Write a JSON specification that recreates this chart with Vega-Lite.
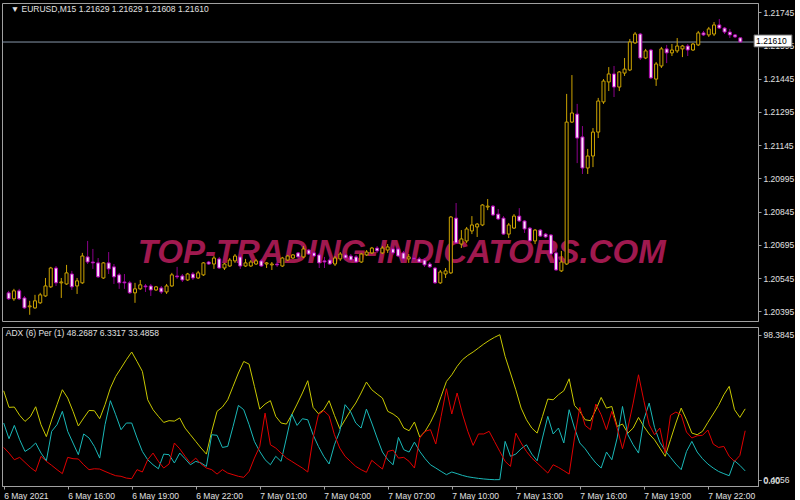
{
"$schema": "https://vega.github.io/schema/vega-lite/v6.json",
"background": "#000000",
"padding": {"left": 1, "top": 2, "right": 0, "bottom": 0},
"spacing": 4,
"config": {
  "view": {"stroke": "#a0a0a0", "strokeWidth": 1},
  "font": "Liberation Sans",
  "axis": {"labelColor": "#e0e0e0", "labelFont": "Liberation Sans", "labelFontSize": 8.5, "domainColor": "#a0a0a0", "tickColor": "#a0a0a0", "grid": false, "title": null, "tickSize": 3, "labelPadding": 2, "labelOverlap": false, "labelFlush": false, "labelBound": false}
},
"datasets": {"bars": [
{"t":"2021-05-06 13:00","o":1.20479,"h":1.20488,"l":1.20447,"c":1.20452,"adx":60.5,"pdi":38.7,"mdi":22.2},
{"t":"2021-05-06 13:15","o":1.20452,"h":1.20497,"l":1.20443,"c":1.20488,"adx":49.3,"pdi":28.1,"mdi":18.4},
{"t":"2021-05-06 13:30","o":1.20488,"h":1.20497,"l":1.20447,"c":1.20452,"adx":49.5,"pdi":37.1,"mdi":13.9},
{"t":"2021-05-06 13:45","o":1.20456,"h":1.20465,"l":1.20407,"c":1.20411,"adx":43.9,"pdi":27.4,"mdi":15.5},
{"t":"2021-05-06 14:00","o":1.20416,"h":1.20443,"l":1.20380,"c":1.20420,"adx":39.8,"pdi":19.5,"mdi":12.1},
{"t":"2021-05-06 14:15","o":1.20411,"h":1.20470,"l":1.20407,"c":1.20443,"adx":43.0,"pdi":21.8,"mdi":8.7},
{"t":"2021-05-06 14:30","o":1.20434,"h":1.20479,"l":1.20429,"c":1.20470,"adx":49.7,"pdi":25.2,"mdi":6.0},
{"t":"2021-05-06 14:45","o":1.20465,"h":1.20546,"l":1.20461,"c":1.20510,"adx":37.6,"pdi":18.4,"mdi":16.2},
{"t":"2021-05-06 15:00","o":1.20506,"h":1.20596,"l":1.20501,"c":1.20591,"adx":29.5,"pdi":13.2,"mdi":12.8},
{"t":"2021-05-06 15:15","o":1.20591,"h":1.20600,"l":1.20510,"c":1.20524,"adx":40.9,"pdi":33.1,"mdi":10.1},
{"t":"2021-05-06 15:30","o":1.20524,"h":1.20546,"l":1.20456,"c":1.20528,"adx":51.1,"pdi":37.6,"mdi":7.2},
{"t":"2021-05-06 15:45","o":1.20519,"h":1.20605,"l":1.20515,"c":1.20569,"adx":61.2,"pdi":46.6,"mdi":4.5},
{"t":"2021-05-06 16:00","o":1.20564,"h":1.20578,"l":1.20492,"c":1.20506,"adx":55.6,"pdi":33.1,"mdi":15.5},
{"t":"2021-05-06 16:15","o":1.20510,"h":1.20546,"l":1.20474,"c":1.20533,"adx":46.6,"pdi":25.2,"mdi":14.6},
{"t":"2021-05-06 16:30","o":1.20524,"h":1.20659,"l":1.20519,"c":1.20645,"adx":36.7,"pdi":17.3,"mdi":14.4},
{"t":"2021-05-06 16:45","o":1.20641,"h":1.20713,"l":1.20609,"c":1.20618,"adx":42.1,"pdi":31.3,"mdi":10.5},
{"t":"2021-05-06 17:00","o":1.20618,"h":1.20677,"l":1.20587,"c":1.20614,"adx":47.2,"pdi":28.6,"mdi":7.2},
{"t":"2021-05-06 17:15","o":1.20614,"h":1.20636,"l":1.20546,"c":1.20551,"adx":47.0,"pdi":22.9,"mdi":7.8},
{"t":"2021-05-06 17:30","o":1.20546,"h":1.20618,"l":1.20542,"c":1.20614,"adx":41.6,"pdi":15.0,"mdi":7.6},
{"t":"2021-05-06 17:45","o":1.20614,"h":1.20663,"l":1.20564,"c":1.20587,"adx":51.1,"pdi":37.6,"mdi":6.0},
{"t":"2021-05-06 18:00","o":1.20596,"h":1.20609,"l":1.20519,"c":1.20551,"adx":62.3,"pdi":53.8,"mdi":4.5},
{"t":"2021-05-06 18:15","o":1.20560,"h":1.20569,"l":1.20497,"c":1.20524,"adx":70.2,"pdi":44.3,"mdi":3.1},
{"t":"2021-05-06 18:30","o":1.20528,"h":1.20564,"l":1.20497,"c":1.20524,"adx":75.8,"pdi":34.2,"mdi":2.7},
{"t":"2021-05-06 18:45","o":1.20524,"h":1.20533,"l":1.20474,"c":1.20479,"adx":81.5,"pdi":38.7,"mdi":1.5},
{"t":"2021-05-06 19:00","o":1.20479,"h":1.20524,"l":1.20434,"c":1.20497,"adx":86.7,"pdi":38.7,"mdi":1.1},
{"t":"2021-05-06 19:15","o":1.20497,"h":1.20537,"l":1.20492,"c":1.20515,"adx":80.3,"pdi":28.6,"mdi":7.2},
{"t":"2021-05-06 19:30","o":1.20510,"h":1.20519,"l":1.20483,"c":1.20506,"adx":73.6,"pdi":19.5,"mdi":5.6},
{"t":"2021-05-06 19:45","o":1.20510,"h":1.20519,"l":1.20465,"c":1.20492,"adx":54.4,"pdi":13.9,"mdi":13.9},
{"t":"2021-05-06 20:00","o":1.20492,"h":1.20510,"l":1.20488,"c":1.20506,"adx":47.7,"pdi":10.5,"mdi":18.4},
{"t":"2021-05-06 20:15","o":1.20501,"h":1.20510,"l":1.20474,"c":1.20483,"adx":43.2,"pdi":7.8,"mdi":12.8},
{"t":"2021-05-06 20:30","o":1.20483,"h":1.20519,"l":1.20474,"c":1.20510,"adx":39.1,"pdi":17.7,"mdi":8.3},
{"t":"2021-05-06 20:45","o":1.20510,"h":1.20569,"l":1.20506,"c":1.20560,"adx":40.3,"pdi":17.3,"mdi":11.0},
{"t":"2021-05-06 21:00","o":1.20555,"h":1.20596,"l":1.20542,"c":1.20551,"adx":40.0,"pdi":11.7,"mdi":25.2},
{"t":"2021-05-06 21:15","o":1.20555,"h":1.20564,"l":1.20528,"c":1.20537,"adx":42.1,"pdi":18.4,"mdi":21.3},
{"t":"2021-05-06 21:30","o":1.20537,"h":1.20569,"l":1.20533,"c":1.20564,"adx":35.3,"pdi":14.6,"mdi":16.2},
{"t":"2021-05-06 21:45","o":1.20564,"h":1.20573,"l":1.20537,"c":1.20546,"adx":30.8,"pdi":10.5,"mdi":11.7},
{"t":"2021-05-06 22:00","o":1.20546,"h":1.20578,"l":1.20542,"c":1.20569,"adx":26.3,"pdi":12.8,"mdi":15.0},
{"t":"2021-05-06 22:15","o":1.20560,"h":1.20618,"l":1.20555,"c":1.20614,"adx":21.8,"pdi":11.7,"mdi":11.0},
{"t":"2021-05-06 22:30","o":1.20618,"h":1.20623,"l":1.20605,"c":1.20609,"adx":17.7,"pdi":9.4,"mdi":8.3},
{"t":"2021-05-06 22:45","o":1.20609,"h":1.20645,"l":1.20587,"c":1.20636,"adx":33.1,"pdi":30.8,"mdi":7.2},
{"t":"2021-05-06 23:00","o":1.20632,"h":1.20641,"l":1.20587,"c":1.20591,"adx":46.6,"pdi":30.4,"mdi":4.2},
{"t":"2021-05-06 23:15","o":1.20591,"h":1.20614,"l":1.20582,"c":1.20609,"adx":49.5,"pdi":22.2,"mdi":7.2},
{"t":"2021-05-06 23:30","o":1.20600,"h":1.20636,"l":1.20596,"c":1.20627,"adx":54.4,"pdi":22.9,"mdi":4.9},
{"t":"2021-05-06 23:45","o":1.20623,"h":1.20654,"l":1.20614,"c":1.20645,"adx":63.5,"pdi":36.4,"mdi":3.8},
{"t":"2021-05-07 00:00","o":1.20641,"h":1.20654,"l":1.20587,"c":1.20600,"adx":72.5,"pdi":50.6,"mdi":2.7},
{"t":"2021-05-07 00:15","o":1.20600,"h":1.20632,"l":1.20596,"c":1.20614,"adx":80.3,"pdi":47.7,"mdi":2.0},
{"t":"2021-05-07 00:30","o":1.20600,"h":1.20627,"l":1.20596,"c":1.20618,"adx":78.5,"pdi":37.6,"mdi":6.0},
{"t":"2021-05-07 00:45","o":1.20609,"h":1.20632,"l":1.20605,"c":1.20623,"adx":63.5,"pdi":26.3,"mdi":15.0},
{"t":"2021-05-07 01:00","o":1.20623,"h":1.20632,"l":1.20596,"c":1.20600,"adx":48.1,"pdi":19.5,"mdi":22.9},
{"t":"2021-05-07 01:15","o":1.20609,"h":1.20618,"l":1.20591,"c":1.20614,"adx":51.5,"pdi":13.9,"mdi":45.4},
{"t":"2021-05-07 01:30","o":1.20605,"h":1.20618,"l":1.20582,"c":1.20609,"adx":53.8,"pdi":10.5,"mdi":24.0},
{"t":"2021-05-07 01:45","o":1.20609,"h":1.20618,"l":1.20596,"c":1.20605,"adx":43.2,"pdi":16.2,"mdi":21.8},
{"t":"2021-05-07 02:00","o":1.20600,"h":1.20641,"l":1.20596,"c":1.20636,"adx":38.7,"pdi":12.8,"mdi":18.4},
{"t":"2021-05-07 02:15","o":1.20627,"h":1.20650,"l":1.20623,"c":1.20645,"adx":38.0,"pdi":28.6,"mdi":15.0},
{"t":"2021-05-07 02:30","o":1.20636,"h":1.20654,"l":1.20632,"c":1.20650,"adx":44.3,"pdi":44.8,"mdi":12.8},
{"t":"2021-05-07 02:45","o":1.20659,"h":1.20663,"l":1.20636,"c":1.20641,"adx":51.5,"pdi":37.1,"mdi":10.5},
{"t":"2021-05-07 03:00","o":1.20641,"h":1.20690,"l":1.20636,"c":1.20677,"adx":59.0,"pdi":41.6,"mdi":8.3},
{"t":"2021-05-07 03:15","o":1.20672,"h":1.20677,"l":1.20650,"c":1.20654,"adx":67.3,"pdi":40.9,"mdi":5.6},
{"t":"2021-05-07 03:30","o":1.20659,"h":1.20668,"l":1.20641,"c":1.20645,"adx":49.3,"pdi":30.8,"mdi":28.6},
{"t":"2021-05-07 03:45","o":1.20650,"h":1.20659,"l":1.20591,"c":1.20614,"adx":45.0,"pdi":22.9,"mdi":44.3},
{"t":"2021-05-07 04:00","o":1.20623,"h":1.20641,"l":1.20591,"c":1.20618,"adx":47.7,"pdi":16.2,"mdi":47.0},
{"t":"2021-05-07 04:15","o":1.20627,"h":1.20636,"l":1.20605,"c":1.20609,"adx":53.8,"pdi":11.0,"mdi":43.6},
{"t":"2021-05-07 04:30","o":1.20609,"h":1.20645,"l":1.20600,"c":1.20636,"adx":43.9,"pdi":24.0,"mdi":30.8},
{"t":"2021-05-07 04:45","o":1.20632,"h":1.20663,"l":1.20623,"c":1.20654,"adx":34.9,"pdi":33.1,"mdi":21.8},
{"t":"2021-05-07 05:00","o":1.20650,"h":1.20659,"l":1.20632,"c":1.20636,"adx":40.9,"pdi":51.1,"mdi":16.2},
{"t":"2021-05-07 05:15","o":1.20645,"h":1.20654,"l":1.20623,"c":1.20627,"adx":47.0,"pdi":46.6,"mdi":12.8},
{"t":"2021-05-07 05:30","o":1.20641,"h":1.20650,"l":1.20614,"c":1.20618,"adx":52.2,"pdi":38.7,"mdi":9.4},
{"t":"2021-05-07 05:45","o":1.20618,"h":1.20659,"l":1.20614,"c":1.20654,"adx":59.0,"pdi":35.3,"mdi":7.2},
{"t":"2021-05-07 06:00","o":1.20650,"h":1.20672,"l":1.20645,"c":1.20663,"adx":66.4,"pdi":48.1,"mdi":5.4},
{"t":"2021-05-07 06:15","o":1.20659,"h":1.20686,"l":1.20654,"c":1.20681,"adx":61.2,"pdi":38.7,"mdi":13.5},
{"t":"2021-05-07 06:30","o":1.20681,"h":1.20690,"l":1.20659,"c":1.20668,"adx":58.3,"pdi":28.6,"mdi":10.5},
{"t":"2021-05-07 06:45","o":1.20659,"h":1.20690,"l":1.20654,"c":1.20681,"adx":55.6,"pdi":19.1,"mdi":7.6},
{"t":"2021-05-07 07:00","o":1.20672,"h":1.20699,"l":1.20659,"c":1.20686,"adx":46.6,"pdi":13.9,"mdi":19.5},
{"t":"2021-05-07 07:15","o":1.20677,"h":1.20690,"l":1.20650,"c":1.20659,"adx":44.8,"pdi":10.5,"mdi":20.4},
{"t":"2021-05-07 07:30","o":1.20677,"h":1.20686,"l":1.20641,"c":1.20645,"adx":42.1,"pdi":29.0,"mdi":15.0},
{"t":"2021-05-07 07:45","o":1.20659,"h":1.20668,"l":1.20618,"c":1.20632,"adx":35.3,"pdi":20.7,"mdi":15.5},
{"t":"2021-05-07 08:00","o":1.20632,"h":1.20654,"l":1.20614,"c":1.20641,"adx":33.5,"pdi":19.1,"mdi":12.8},
{"t":"2021-05-07 08:15","o":1.20636,"h":1.20650,"l":1.20618,"c":1.20632,"adx":39.4,"pdi":25.8,"mdi":8.3},
{"t":"2021-05-07 08:30","o":1.20632,"h":1.20641,"l":1.20614,"c":1.20618,"adx":29.2,"pdi":19.5,"mdi":28.6},
{"t":"2021-05-07 08:45","o":1.20627,"h":1.20636,"l":1.20596,"c":1.20605,"adx":33.1,"pdi":14.6,"mdi":33.1},
{"t":"2021-05-07 09:00","o":1.20609,"h":1.20618,"l":1.20591,"c":1.20596,"adx":39.1,"pdi":10.5,"mdi":34.2},
{"t":"2021-05-07 09:15","o":1.20591,"h":1.20596,"l":1.20519,"c":1.20524,"adx":46.6,"pdi":8.3,"mdi":24.5},
{"t":"2021-05-07 09:30","o":1.20524,"h":1.20582,"l":1.20519,"c":1.20573,"adx":56.7,"pdi":6.0,"mdi":43.2},
{"t":"2021-05-07 09:45","o":1.20564,"h":1.20591,"l":1.20546,"c":1.20578,"adx":66.8,"pdi":3.8,"mdi":61.9},
{"t":"2021-05-07 10:00","o":1.20569,"h":1.20825,"l":1.20564,"c":1.20821,"adx":71.3,"pdi":5.6,"mdi":44.8},
{"t":"2021-05-07 10:15","o":1.20816,"h":1.20884,"l":1.20699,"c":1.20704,"adx":77.0,"pdi":4.5,"mdi":59.0},
{"t":"2021-05-07 10:30","o":1.20699,"h":1.20762,"l":1.20681,"c":1.20722,"adx":81.5,"pdi":3.3,"mdi":44.8},
{"t":"2021-05-07 10:45","o":1.20713,"h":1.20776,"l":1.20704,"c":1.20767,"adx":84.4,"pdi":2.4,"mdi":33.1},
{"t":"2021-05-07 11:00","o":1.20758,"h":1.20825,"l":1.20744,"c":1.20785,"adx":86.7,"pdi":1.8,"mdi":23.6},
{"t":"2021-05-07 11:15","o":1.20776,"h":1.20794,"l":1.20731,"c":1.20789,"adx":89.4,"pdi":1.3,"mdi":31.3},
{"t":"2021-05-07 11:30","o":1.20785,"h":1.20879,"l":1.20780,"c":1.20875,"adx":92.1,"pdi":0.9,"mdi":31.3},
{"t":"2021-05-07 11:45","o":1.20866,"h":1.20902,"l":1.20852,"c":1.20870,"adx":94.5,"pdi":0.6,"mdi":33.1},
{"t":"2021-05-07 12:00","o":1.20870,"h":1.20875,"l":1.20825,"c":1.20830,"adx":96.6,"pdi":0.4056,"mdi":26.3},
{"t":"2021-05-07 12:15","o":1.20834,"h":1.20857,"l":1.20807,"c":1.20812,"adx":98.3845,"pdi":0.45,"mdi":19.5},
{"t":"2021-05-07 12:30","o":1.20816,"h":1.20825,"l":1.20740,"c":1.20744,"adx":83.7,"pdi":26.3,"mdi":12.8},
{"t":"2021-05-07 12:45","o":1.20744,"h":1.20794,"l":1.20726,"c":1.20785,"adx":72.5,"pdi":16.2,"mdi":9.4},
{"t":"2021-05-07 13:00","o":1.20771,"h":1.20834,"l":1.20767,"c":1.20825,"adx":61.2,"pdi":17.7,"mdi":31.9},
{"t":"2021-05-07 13:15","o":1.20825,"h":1.20861,"l":1.20798,"c":1.20803,"adx":48.8,"pdi":21.3,"mdi":25.2},
{"t":"2021-05-07 13:30","o":1.20803,"h":1.20807,"l":1.20749,"c":1.20767,"adx":40.9,"pdi":24.0,"mdi":19.5},
{"t":"2021-05-07 13:45","o":1.20771,"h":1.20776,"l":1.20708,"c":1.20713,"adx":35.3,"pdi":17.7,"mdi":15.0},
{"t":"2021-05-07 14:00","o":1.20713,"h":1.20767,"l":1.20699,"c":1.20762,"adx":31.9,"pdi":13.2,"mdi":11.7},
{"t":"2021-05-07 14:15","o":1.20762,"h":1.20767,"l":1.20731,"c":1.20735,"adx":43.2,"pdi":28.6,"mdi":8.3},
{"t":"2021-05-07 14:30","o":1.20744,"h":1.20749,"l":1.20726,"c":1.20731,"adx":54.9,"pdi":43.2,"mdi":4.9},
{"t":"2021-05-07 14:45","o":1.20740,"h":1.20744,"l":1.20650,"c":1.20654,"adx":54.4,"pdi":31.3,"mdi":10.5},
{"t":"2021-05-07 15:00","o":1.20659,"h":1.20681,"l":1.20578,"c":1.20582,"adx":57.8,"pdi":35.3,"mdi":8.7},
{"t":"2021-05-07 15:15","o":1.20578,"h":1.20668,"l":1.20573,"c":1.20618,"adx":60.5,"pdi":25.2,"mdi":6.5},
{"t":"2021-05-07 15:30","o":1.20609,"h":1.21376,"l":1.20605,"c":1.21249,"adx":68.6,"pdi":47.7,"mdi":4.2},
{"t":"2021-05-07 15:45","o":1.21249,"h":1.21461,"l":1.21245,"c":1.21290,"adx":50.6,"pdi":35.3,"mdi":28.6},
{"t":"2021-05-07 16:00","o":1.21285,"h":1.21331,"l":1.21064,"c":1.21177,"adx":46.6,"pdi":25.2,"mdi":49.3},
{"t":"2021-05-07 16:15","o":1.21182,"h":1.21231,"l":1.21015,"c":1.21042,"adx":40.9,"pdi":21.3,"mdi":37.1},
{"t":"2021-05-07 16:30","o":1.21042,"h":1.21128,"l":1.21015,"c":1.21096,"adx":40.3,"pdi":16.2,"mdi":34.2},
{"t":"2021-05-07 16:45","o":1.21096,"h":1.21222,"l":1.21046,"c":1.21204,"adx":47.7,"pdi":11.7,"mdi":51.5},
{"t":"2021-05-07 17:00","o":1.21204,"h":1.21358,"l":1.21177,"c":1.21344,"adx":56.0,"pdi":8.3,"mdi":44.3},
{"t":"2021-05-07 17:15","o":1.21340,"h":1.21443,"l":1.21331,"c":1.21434,"adx":48.8,"pdi":19.1,"mdi":34.2},
{"t":"2021-05-07 17:30","o":1.21430,"h":1.21497,"l":1.21389,"c":1.21466,"adx":49.9,"pdi":13.9,"mdi":46.6},
{"t":"2021-05-07 17:45","o":1.21466,"h":1.21502,"l":1.21362,"c":1.21407,"adx":36.4,"pdi":28.6,"mdi":35.3},
{"t":"2021-05-07 18:00","o":1.21407,"h":1.21479,"l":1.21389,"c":1.21475,"adx":38.0,"pdi":49.9,"mdi":21.3},
{"t":"2021-05-07 18:15","o":1.21470,"h":1.21538,"l":1.21457,"c":1.21488,"adx":31.9,"pdi":30.8,"mdi":35.3},
{"t":"2021-05-07 18:30","o":1.21484,"h":1.21624,"l":1.21479,"c":1.21610,"adx":35.3,"pdi":24.0,"mdi":52.2},
{"t":"2021-05-07 18:45","o":1.21606,"h":1.21655,"l":1.21601,"c":1.21646,"adx":42.5,"pdi":18.4,"mdi":71.3},
{"t":"2021-05-07 19:00","o":1.21646,"h":1.21651,"l":1.21529,"c":1.21538,"adx":36.4,"pdi":40.9,"mdi":53.8},
{"t":"2021-05-07 19:15","o":1.21538,"h":1.21579,"l":1.21533,"c":1.21570,"adx":31.3,"pdi":52.2,"mdi":37.6},
{"t":"2021-05-07 19:30","o":1.21574,"h":1.21579,"l":1.21443,"c":1.21448,"adx":27.4,"pdi":35.8,"mdi":30.8},
{"t":"2021-05-07 19:45","o":1.21443,"h":1.21520,"l":1.21412,"c":1.21511,"adx":21.8,"pdi":25.8,"mdi":35.3},
{"t":"2021-05-07 20:00","o":1.21502,"h":1.21588,"l":1.21493,"c":1.21579,"adx":16.2,"pdi":20.0,"mdi":18.4},
{"t":"2021-05-07 20:15","o":1.21579,"h":1.21597,"l":1.21515,"c":1.21561,"adx":27.4,"pdi":15.5,"mdi":43.9},
{"t":"2021-05-07 20:30","o":1.21561,"h":1.21601,"l":1.21547,"c":1.21574,"adx":38.7,"pdi":11.0,"mdi":46.1},
{"t":"2021-05-07 20:45","o":1.21570,"h":1.21628,"l":1.21561,"c":1.21592,"adx":48.8,"pdi":7.2,"mdi":44.3},
{"t":"2021-05-07 21:00","o":1.21579,"h":1.21597,"l":1.21542,"c":1.21592,"adx":40.9,"pdi":19.5,"mdi":32.6},
{"t":"2021-05-07 21:15","o":1.21592,"h":1.21601,"l":1.21547,"c":1.21574,"adx":31.9,"pdi":26.3,"mdi":28.6},
{"t":"2021-05-07 21:30","o":1.21574,"h":1.21606,"l":1.21570,"c":1.21601,"adx":30.8,"pdi":19.1,"mdi":30.1},
{"t":"2021-05-07 21:45","o":1.21597,"h":1.21660,"l":1.21592,"c":1.21651,"adx":33.1,"pdi":14.6,"mdi":30.4},
{"t":"2021-05-07 22:00","o":1.21651,"h":1.21660,"l":1.21637,"c":1.21642,"adx":39.1,"pdi":11.0,"mdi":34.0},
{"t":"2021-05-07 22:15","o":1.21642,"h":1.21678,"l":1.21633,"c":1.21669,"adx":44.8,"pdi":8.3,"mdi":24.5},
{"t":"2021-05-07 22:30","o":1.21646,"h":1.21700,"l":1.21637,"c":1.21687,"adx":50.6,"pdi":6.0,"mdi":22.2},
{"t":"2021-05-07 22:45","o":1.21687,"h":1.21714,"l":1.21669,"c":1.21673,"adx":57.8,"pdi":4.5,"mdi":22.9},
{"t":"2021-05-07 23:00","o":1.21673,"h":1.21678,"l":1.21646,"c":1.21655,"adx":63.5,"pdi":3.1,"mdi":16.2},
{"t":"2021-05-07 23:15","o":1.21655,"h":1.21669,"l":1.21628,"c":1.21642,"adx":47.7,"pdi":13.2,"mdi":12.8},
{"t":"2021-05-07 23:30","o":1.21642,"h":1.21646,"l":1.21628,"c":1.21633,"adx":42.5,"pdi":10.1,"mdi":16.8},
{"t":"2021-05-07 23:45","o":1.21629,"h":1.21629,"l":1.21608,"c":1.21610,"adx":48.2687,"pdi":6.3317,"mdi":33.4858}
]},
"vconcat": [
{
  "width": 756, "height": 318,
  "data": {"name": "bars"},
  "layer": [
    {"data": {"values": [{"t": "2021-05-07 07:40", "p": 1.20614, "s": "TOP-TRADING-INDICATORS.COM"}]},
     "mark": {"type": "text", "font": "Liberation Sans", "fontSize": 33, "fontWeight": "bold", "fontStyle": "italic", "align": "center", "baseline": "alphabetic", "color": "#a0194f"},
     "encoding": {
       "x": {"field": "t", "type": "temporal", "axis": null, "scale": {"domain": [{"year":2021,"month":5,"date":6,"hours":12,"minutes":55,"seconds":18},{"year":2021,"month":5,"date":8,"hours":0,"minutes":21}]}},
       "y": {"field": "p", "type": "quantitative", "scale": {"domain": [1.20352, 1.21786], "nice": false, "zero": false}, "axis": {"orient": "right", "values": [1.20395,1.20545,1.20695,1.20845,1.20995,1.21145,1.21295,1.21445,1.21595,1.21745], "tickCount": 30, "format": ".5f", "labelOverlap": false, "labelBound": false}},
       "text": {"field": "s"}}},
    {"data": {"values": [{"t": "2021-05-06 13:06", "p": 1.21745, "s": "▼ EURUSD,M15  1.21629 1.21629 1.21608 1.21610"}]},
     "mark": {"type": "text", "align": "left", "baseline": "alphabetic", "fontSize": 8.5, "font": "Liberation Sans", "color": "#e0e0e0"},
     "encoding": {
       "x": {"field": "t", "type": "temporal"},
       "y": {"field": "p", "type": "quantitative"},
       "text": {"field": "s"}}},
    {"data": {"values": [{"p": 1.2161}]},
     "mark": {"type": "rule", "color": "#8898aa", "strokeWidth": 1},
     "encoding": {"y": {"field": "p", "type": "quantitative"}}},
    {"mark": {"type": "rule", "strokeWidth": 1},
     "encoding": {
       "x": {"field": "t", "type": "temporal"},
       "y": {"field": "l", "type": "quantitative"},
       "y2": {"field": "h"},
       "color": {"condition": {"test": "datum.c >= datum.o", "value": "#cca300"}, "value": "#8b008b"}}},
    {"mark": {"type": "bar", "size": 3, "strokeWidth": 1},
     "encoding": {
       "x": {"field": "t", "type": "temporal"},
       "y": {"field": "o", "type": "quantitative"},
       "y2": {"field": "c"},
       "fill": {"condition": {"test": "datum.c >= datum.o", "value": "#000000"}, "value": "#fbe2fb"},
       "stroke": {"condition": {"test": "datum.c >= datum.o", "value": "#cca300"}, "value": "#b000b0"}}},
    {"data": {"values": [{"t0": "2021-05-08 00:24", "t1": "2021-05-08 02:12", "p0": 1.21642, "p1": 1.21588}]},
     "mark": {"type": "rect", "fill": "#ffffff", "stroke": "#606060", "strokeWidth": 1},
     "encoding": {
       "x": {"field": "t0", "type": "temporal"},
       "x2": {"field": "t1"},
       "y": {"field": "p0", "type": "quantitative"},
       "y2": {"field": "p1"}}},
    {"data": {"values": [{"t0": "2021-05-08 00:24", "p": 1.21613, "s": "1.21610"}]},
     "mark": {"type": "text", "align": "left", "baseline": "middle", "dx": 2, "fontSize": 8.5, "font": "Liberation Sans", "color": "#000000"},
     "encoding": {
       "x": {"field": "t0", "type": "temporal"},
       "y": {"field": "p", "type": "quantitative"},
       "text": {"field": "s"}}}
  ]
},
{
  "width": 756, "height": 159,
  "data": {"name": "bars"},
  "layer": [
    {"mark": {"type": "line", "color": "#c8c800", "strokeWidth": 1},
     "encoding": {
       "x": {"field": "t", "type": "temporal",
         "scale": {"domain": [{"year":2021,"month":5,"date":6,"hours":12,"minutes":55,"seconds":18},{"year":2021,"month":5,"date":8,"hours":0,"minutes":21}]},
         "axis": {"values": [{"year":2021,"month":5,"date":6,"hours":13},{"year":2021,"month":5,"date":6,"hours":16},{"year":2021,"month":5,"date":6,"hours":19},{"year":2021,"month":5,"date":6,"hours":22},{"year":2021,"month":5,"date":7,"hours":1},{"year":2021,"month":5,"date":7,"hours":4},{"year":2021,"month":5,"date":7,"hours":7},{"year":2021,"month":5,"date":7,"hours":10},{"year":2021,"month":5,"date":7,"hours":13},{"year":2021,"month":5,"date":7,"hours":16},{"year":2021,"month":5,"date":7,"hours":19},{"year":2021,"month":5,"date":7,"hours":22}],
           "tickCount": 30,
           "labelExpr": "hours(datum.value) == 13 && date(datum.value) == 6 ? '6 May 2021' : timeFormat(datum.value, '%-d %b %H:%M')",
           "labelAlign": "left", "labelOverlap": false, "labelBound": false}},
       "y": {"field": "adx", "type": "quantitative", "scale": {"domain": [-3.85, 103.59], "nice": false, "zero": false},
         "axis": {"orient": "right", "values": [0, 0.4056, 98.3845], "tickCount": 10, "labelExpr": "datum.value == 0 ? '0.00' : format(datum.value, '.4f')", "labelOverlap": false}}}},
    {"mark": {"type": "line", "color": "#1ab8b8", "strokeWidth": 1},
     "encoding": {"x": {"field": "t", "type": "temporal"}, "y": {"field": "pdi", "type": "quantitative"}}},
    {"mark": {"type": "line", "color": "#e00000", "strokeWidth": 1},
     "encoding": {"x": {"field": "t", "type": "temporal"}, "y": {"field": "mdi", "type": "quantitative"}}},
    {"data": {"values": [{"t": "2021-05-06 13:06", "v": 97.2, "s": "ADX (6)  Per (1)   48.2687 6.3317 33.4858"}]},
     "mark": {"type": "text", "align": "left", "baseline": "alphabetic", "fontSize": 8.5, "font": "Liberation Sans", "color": "#e0e0e0"},
     "encoding": {
       "x": {"field": "t", "type": "temporal"},
       "y": {"field": "v", "type": "quantitative"},
       "text": {"field": "s"}}}
  ]
}
]
}
